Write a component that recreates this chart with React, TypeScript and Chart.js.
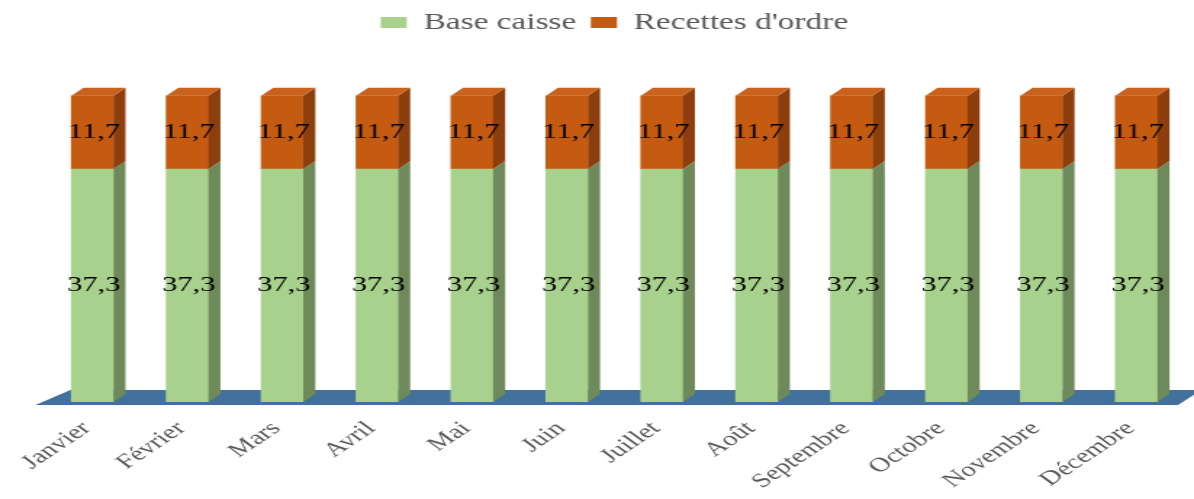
import React, { useEffect, useRef } from "react";
import { Chart, registerables } from "chart.js";

Chart.register(...registerables);

const months = [
  "Janvier", "Février", "Mars", "Avril", "Mai", "Juin",
  "Juillet", "Août", "Septembre", "Octobre", "Novembre", "Décembre",
];
const baseCaisse = [37.3, 37.3, 37.3, 37.3, 37.3, 37.3, 37.3, 37.3, 37.3, 37.3, 37.3, 37.3];
const recettesOrdre = [11.7, 11.7, 11.7, 11.7, 11.7, 11.7, 11.7, 11.7, 11.7, 11.7, 11.7, 11.7];

const NATIVE_W = 823;
const H = 499;
const SERIF = "'Liberation Serif', 'Times New Roman', serif";

const FRONT = ["#a9d18e", "#c55a11"];
const SIDE = ["#6f8a5a", "#8c3e0d"];
const TOP = ["#b7dc9c", "#c9621d"];
const DX = 8.3;
const DY = 8;

const fmt = (v: number) => v.toFixed(1).replace(".", ",");

const bar3d = {
  id: "bar3d",
  beforeDatasetsDraw(chart: any) {
    const { ctx, chartArea, scales } = chart;
    const y0 = scales.y.getPixelForValue(0);
    ctx.save();
    ctx.fillStyle = "#41719c";
    ctx.beginPath();
    ctx.moveTo(chartArea.left - 6.6, y0 + 3);
    ctx.lineTo(chartArea.left + 17.5, y0 - 12);
    ctx.lineTo(chartArea.right + 12, y0 - 12);
    ctx.lineTo(chartArea.right - 4, y0 + 3);
    ctx.closePath();
    ctx.fill();
    ctx.restore();
  },
  afterDatasetsDraw(chart: any) {
    const { ctx } = chart;
    const n = chart.data.datasets.length;
    ctx.save();
    for (let d = 0; d < n; d++) {
      const meta = chart.getDatasetMeta(d);
      meta.data.forEach((el: any) => {
        const { x, y, base, width } = el.getProps(["x", "y", "base", "width"], true);
        const l = x - width / 2;
        const r = x + width / 2;
        ctx.fillStyle = SIDE[d];
        ctx.beginPath();
        ctx.moveTo(r, base);
        ctx.lineTo(r + DX, base - DY);
        ctx.lineTo(r + DX, y - DY);
        ctx.lineTo(r, y);
        ctx.closePath();
        ctx.fill();
        if (d === n - 1) {
          ctx.fillStyle = TOP[d];
          ctx.beginPath();
          ctx.moveTo(l, y);
          ctx.lineTo(l + DX, y - DY);
          ctx.lineTo(r + DX, y - DY);
          ctx.lineTo(r, y);
          ctx.closePath();
          ctx.fill();
        }
      });
    }
    ctx.fillStyle = "#000000";
    ctx.font = `21px ${SERIF}`;
    ctx.textAlign = "center";
    ctx.textBaseline = "middle";
    for (let d = 0; d < n; d++) {
      const meta = chart.getDatasetMeta(d);
      const values = chart.data.datasets[d].data;
      meta.data.forEach((el: any, i: number) => {
        const { x, y, base } = el.getProps(["x", "y", "base"], true);
        ctx.fillText(fmt(values[i]), x + 1, (y + base) / 2);
      });
    }
    ctx.restore();
  },
};

export default function App() {
  const ref = useRef<HTMLCanvasElement | null>(null);

  useEffect(() => {
    if (!ref.current) return;
    const chart = new Chart(ref.current, {
      type: "bar",
      data: {
        labels: months,
        datasets: [
          {
            label: "Base caisse",
            data: baseCaisse,
            backgroundColor: FRONT[0],
            borderWidth: 0,
            barThickness: 29,
          },
          {
            label: "Recettes d'ordre",
            data: recettesOrdre,
            backgroundColor: FRONT[1],
            borderWidth: 0,
            barThickness: 29,
          },
        ],
      },
      options: {
        responsive: false,
        maintainAspectRatio: false,
        animation: false,
        devicePixelRatio: 1,
        layout: { padding: { left: 31, right: 7, top: 1, bottom: 0 } },
        plugins: {
          tooltip: { enabled: false },
          legend: {
            position: "top",
            labels: {
              color: "#595959",
              font: { family: SERIF, size: 23 },
              boxWidth: 18,
              boxHeight: 11,
              padding: 10,
            },
          },
        },
        scales: {
          x: {
            stacked: true,
            grid: { display: false, drawTicks: false },
            border: { display: false },
            ticks: {
              color: "#595959",
              font: { family: SERIF, size: 20 },
              maxRotation: 44,
              minRotation: 44,
              autoSkip: false,
              padding: 15,
              labelOffset: -4,
            },
            afterFit(scale: any) {
              scale.height = 97;
              scale.paddingLeft = 0;
              scale.paddingRight = 0;
            },
          },
          y: {
            stacked: true,
            display: false,
            min: 0,
            max: 57.3,
          },
        },
      },
      plugins: [bar3d],
    } as any);
    return () => chart.destroy();
  }, []);

  return (
    <div style={{ position: "absolute", left: 0, top: 0, width: 1194, height: H, background: "#ffffff" }}>
      <canvas
        ref={ref}
        width={NATIVE_W}
        height={H}
        style={{ width: "1194px", height: `${H}px`, display: "block" }}
      />
    </div>
  );
}
